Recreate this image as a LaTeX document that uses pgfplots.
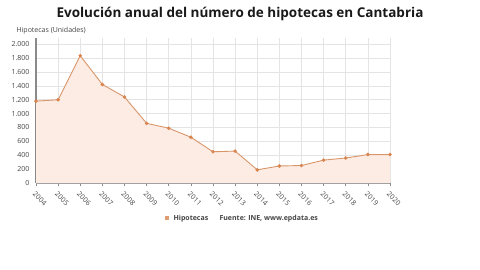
\documentclass[border=0pt]{standalone}
\usepackage{pgfplots}
\pgfplotsset{compat=1.18}
\usepackage{fontspec}
\setmainfont{Open Sans}
\definecolor{lineC}{HTML}{D9966B}
\definecolor{markC}{HTML}{D9854F}
\definecolor{fillC}{HTML}{FDECE3}
\definecolor{gridC}{HTML}{E4E4E4}
\definecolor{axC}{HTML}{8A8A8A}
\definecolor{txtC}{HTML}{444444}
\begin{document}
\begin{tikzpicture}
\useasboundingbox (0pt,0pt) rectangle (480pt,270pt);
\node[font=\fontsize{13.5}{15}\selectfont\bfseries, text=black!90] at (240pt,256pt) {Evolución anual del número de hipotecas en Cantabria};
\node[font=\fontsize{7}{8}\selectfont, text=txtC, anchor=west] at (13pt,239pt) {Hipotecas (Unidades)};
\begin{axis}[
  at={(36pt,87pt)}, anchor=origin,
  scale only axis, width=354pt, height=145pt,
  xmin=2004, xmax=2020, ymin=0, ymax=2090,
  xtick={2004,...,2020},
  ytick={0,200,...,2000},
  grid=major,
  major grid style={gridC, line width=0.5pt},
  axis x line*=bottom, axis y line*=left,
  x axis line style={axC!80, line width=0.8pt, -},
  y axis line style={axC, line width=1.3pt, -},
  tick style={axC, line width=0.5pt},
  major tick length=3pt,
  ytick style={draw=none},
  xtick pos=bottom,
  tick align=outside,
  /pgf/number format/assume math mode=true,
  yticklabel style={font=\fontsize{7}{8}\selectfont, text=txtC, /pgf/number format/.cd, 1000 sep={.}},
  xticklabel style={font=\fontsize{7}{8}\selectfont, text=txtC, rotate=-45, anchor=north west, /pgf/number format/.cd, 1000 sep={}},
]
\addplot[fill=fillC, draw=none] coordinates {
(2004,1180) (2005,1200) (2006,1835) (2007,1420) (2008,1240) (2009,860) (2010,790) (2011,660) (2012,450) (2013,460) (2014,190) (2015,245) (2016,252) (2017,330) (2018,360) (2019,410) (2020,410)
} \closedcycle;
\addplot[lineC, line width=0.9pt, mark=*, mark size=1.3pt, mark options={fill=markC, draw=markC}] coordinates {
(2004,1180) (2005,1200) (2006,1835) (2007,1420) (2008,1240) (2009,860) (2010,790) (2011,660) (2012,450) (2013,460) (2014,190) (2015,245) (2016,252) (2017,330) (2018,360) (2019,410) (2020,410)
};
\end{axis}
\fill[markC!80] (164.5pt,49.5pt) rectangle (168.5pt,53.5pt);
\node[font=\fontsize{7}{8}\selectfont\bfseries, text=txtC, anchor=west] at (170pt,51.5pt) {Hipotecas};
\node[font=\fontsize{7}{8}\selectfont\bfseries, text=txtC, anchor=west] at (216pt,51.5pt) {Fuente: INE, www.epdata.es};
\end{tikzpicture}
\end{document}
